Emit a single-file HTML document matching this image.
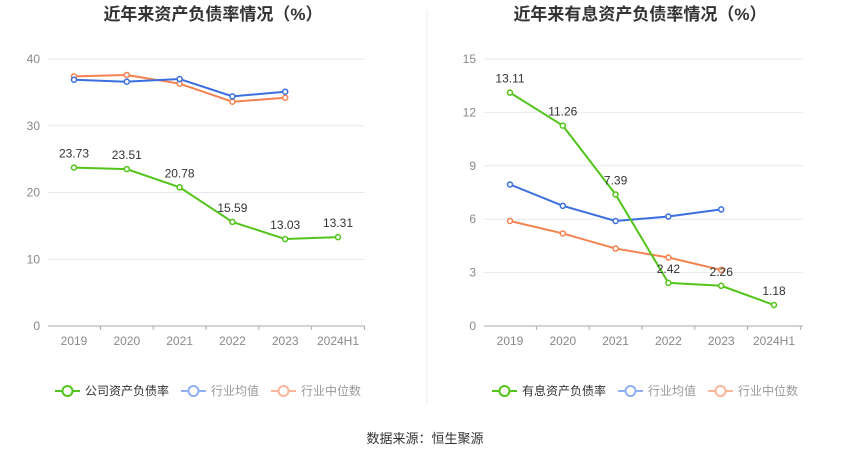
<!DOCTYPE html>
<html><head><meta charset="utf-8"><style>
body{margin:0;background:#fff;font-family:"Liberation Sans","Noto Sans CJK SC",sans-serif}
svg text{font-family:"Liberation Sans","Noto Sans CJK SC",sans-serif}
</style></head><body>
<svg id="s" width="850" height="459" xmlns="http://www.w3.org/2000/svg">
<line x1="427" y1="10" x2="427" y2="405" stroke="#eee"/>
<text x="425" y="443" font-size="13" fill="#333" text-anchor="middle">数据来源：恒生聚源</text>
</svg>
<script>
const categories=["2019","2020","2021","2022","2023","2024H1"];
const leftCompany=[23.73,23.51,20.78,15.59,13.03,13.31];
const leftAvg=[36.9,36.6,37.0,34.4,35.1];
const leftMedian=[37.4,37.6,36.3,33.6,34.2];
const leftTicks=[0,10,20,30,40];
const rightCompany=[13.11,11.26,7.39,2.42,2.26,1.18];
const rightAvg=[7.95,6.75,5.9,6.15,6.55];
const rightMedian=[5.9,5.2,4.35,3.85,3.15];
const rightTicks=[0,3,6,9,12,15];
const NS="http://www.w3.org/2000/svg";
const svg=document.getElementById('s');
function mk(t,a,p){const e=document.createElementNS(NS,t);for(const k in a)e.setAttribute(k,a[k]);(p||svg).appendChild(e);return e;}
const G="#52c41a",B="#3b6fe0",O="#f5834f";
function chart(o){
 const g=mk('g',{});
 
 
 const y0=326,y1=59,max=o.ticks[o.ticks.length-1];
 const ys=v=>y0-(v/max)*(y0-y1);
 const xs=i=>o.x0+26+i*52.8;
 const t=mk('text',{x:o.cx,y:20,'font-size':17,'font-weight':'bold',fill:'#333','text-anchor':'middle'},g);t.textContent=o.title;
 
 o.ticks.forEach(v=>{
  const l=mk('line',{x1:o.x0,x2:o.x1,y1:ys(v),y2:ys(v),stroke:v===0?'#aaa':'#e6e9f0'},g);
  
  const tx=mk('text',{x:o.x0-8,y:ys(v)+4,'font-size':12,fill:'#888','text-anchor':'end'},g);tx.textContent=v;
  
 });
 categories.forEach((c,i)=>{
  const tx=mk('text',{x:xs(i),y:345,'font-size':12,fill:'#888','text-anchor':'middle'},g);tx.textContent=c;
  
  const tk=mk('line',{x1:xs(i)+26.4,x2:xs(i)+26.4,y1:y0,y2:y0+4,stroke:'#aaa'},g);
  
 });
 [[o.med,O,'median-line'],[o.avg,B,'average-line'],[o.comp,G,'company-line']].forEach(([d,c,n])=>{
  const p=mk('polyline',{points:d.map((v,i)=>xs(i)+','+ys(v)).join(' '),fill:'none',stroke:c,'stroke-width':2},g);
  
  d.forEach((v,i)=>{const ci=mk('circle',{cx:xs(i),cy:ys(v),r:2.5,fill:'#fff',stroke:c,'stroke-width':1.5},g);
   });
 });
 o.comp.forEach((v,i)=>{const tx=mk('text',{x:xs(i),y:ys(v)-10,'font-size':12,fill:'#333','text-anchor':'middle'},g);tx.textContent=v.toFixed(2);
  });
 const leg=[[o.legend,G,'#333'],['行业均值','#8fb0f5','#999'],['行业中位数','#f9b59a','#999']];
 let lx=o.legX;
 leg.forEach(([s,c,tc])=>{
  const lg=mk('g',{},g);
  mk('line',{x1:lx,x2:lx+25,y1:391,y2:391,stroke:c,'stroke-width':2},lg);
  mk('circle',{cx:lx+12.5,cy:391,r:5,fill:'#fff',stroke:c,'stroke-width':2},lg);
  const tx=mk('text',{x:lx+30,y:395,'font-size':12,fill:tc},lg);tx.textContent=s;
  lx+=30+s.length*12+12;
 });
}
chart({name:'left-chart',title:'近年来资产负债率情况（%）',cx:213,x0:48,x1:365,ticks:leftTicks,comp:leftCompany,avg:leftAvg,med:leftMedian,legend:'公司资产负债率',legX:55});
chart({name:'right-chart',title:'近年来有息资产负债率情况（%）',cx:640,x0:484,x1:803,ticks:rightTicks,comp:rightCompany,avg:rightAvg,med:rightMedian,legend:'有息资产负债率',legX:492});
</script>
</body></html>
